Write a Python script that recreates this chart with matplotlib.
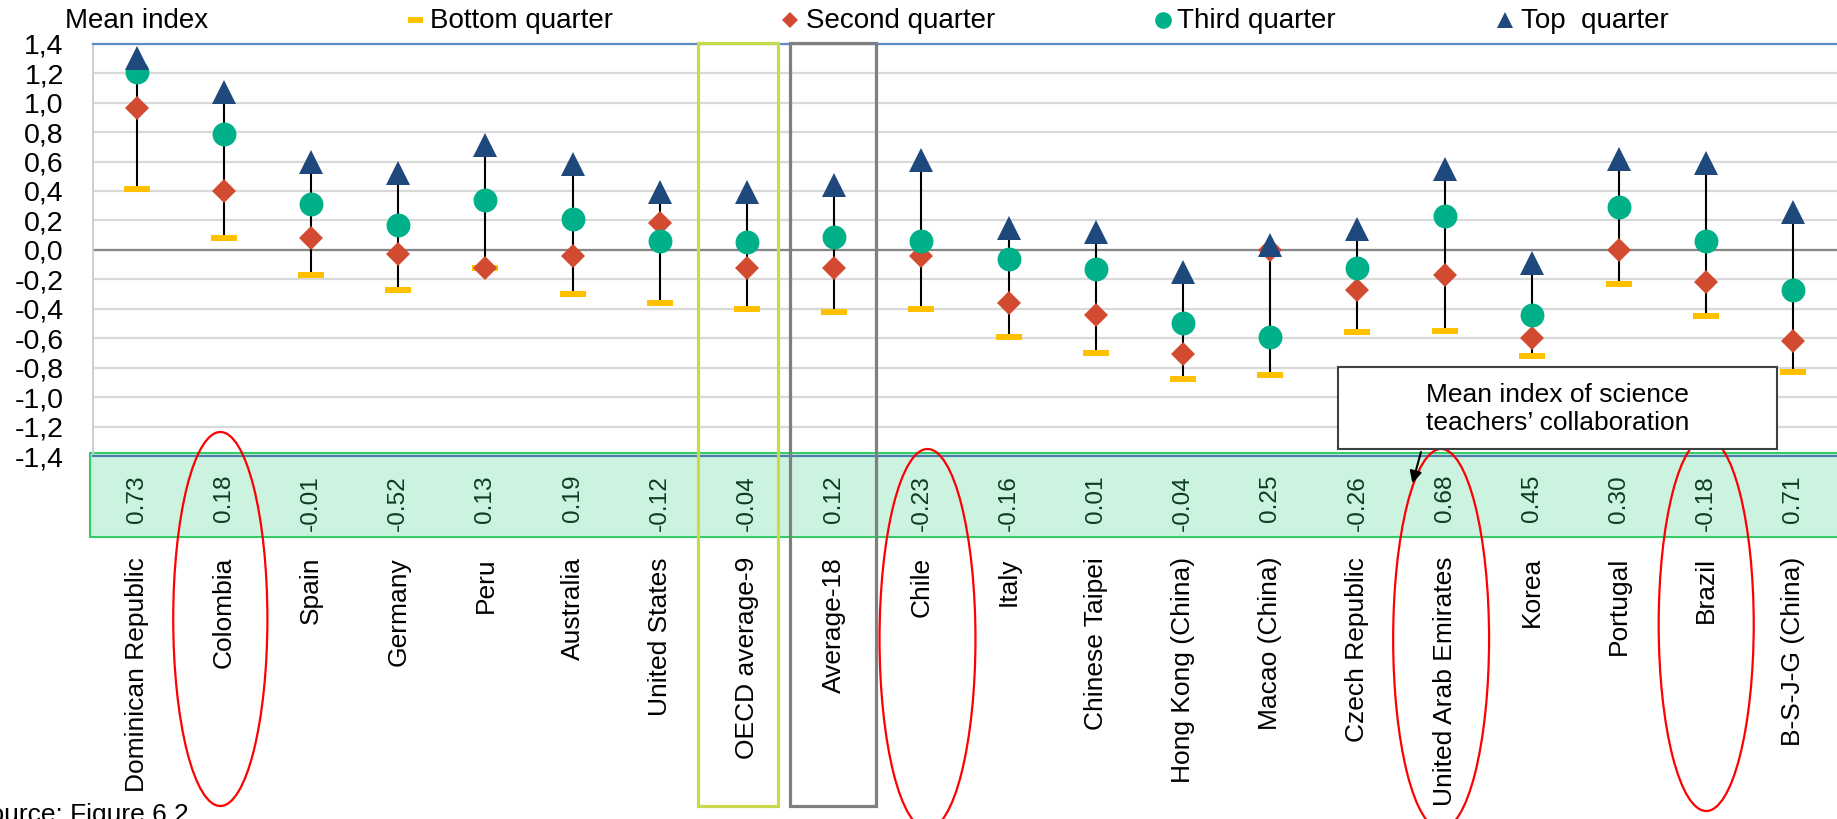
import matplotlib
matplotlib.use("Agg")
import matplotlib.pyplot as plt
import matplotlib.transforms as mtransforms
from matplotlib.patches import Rectangle, Ellipse, FancyArrowPatch
from matplotlib.lines import Line2D
from matplotlib.path import Path

plt.rcParams['font.family'] = ['Liberation Sans', 'DejaVu Sans']

# ---- data -------------------------------------------------------------
categories = ["Dominican Republic", "Colombia", "Spain", "Germany", "Peru",
              "Australia", "United States", "OECD average-9", "Average-18",
              "Chile", "Italy", "Chinese Taipei", "Hong Kong (China)",
              "Macao (China)", "Czech Republic", "United Arab Emirates",
              "Korea", "Portugal", "Brazil", "B-S-J-G (China)"]

bottom_quarter = [0.41, 0.08, -0.17, -0.27, -0.12, -0.30, -0.36, -0.40, -0.42, -0.40,
                  -0.59, -0.70, -0.88, -0.85, -0.56, -0.55, -0.72, -0.23, -0.45, -0.83]
second_quarter = [0.96, 0.40, 0.08, -0.03, -0.12, -0.04, 0.18, -0.12, -0.12, -0.04,
                  -0.36, -0.44, -0.71, 0.00, -0.27, -0.17, -0.60, 0.00, -0.22, -0.62]
third_quarter = [1.21, 0.79, 0.31, 0.17, 0.34, 0.21, 0.06, 0.05, 0.09, 0.06,
                 -0.06, -0.13, -0.50, -0.59, -0.12, 0.23, -0.44, 0.29, 0.06, -0.27]
top_quarter = [1.30, 1.07, 0.60, 0.52, 0.71, 0.58, 0.39, 0.39, 0.44, 0.61,
               0.15, 0.12, -0.15, 0.03, 0.14, 0.55, -0.09, 0.62, 0.59, 0.26]
mean_index = [0.73, 0.18, -0.01, -0.52, 0.13, 0.19, -0.12, -0.04, 0.12, -0.23,
              -0.16, 0.01, -0.04, 0.25, -0.26, 0.68, 0.45, 0.30, -0.18, 0.71]

y_ticks = [1.4, 1.2, 1.0, 0.8, 0.6, 0.4, 0.2, 0.0, -0.2, -0.4, -0.6, -0.8, -1.0, -1.2, -1.4]
y_tick_labels = ["1,4", "1,2", "1,0", "0,8", "0,6", "0,4", "0,2", "0,0",
                 "-0,2", "-0,4", "-0,6", "-0,8", "-1,0", "-1,2", "-1,4"]

# ---- styling ----------------------------------------------------------
C_BOTTOM = "#FFC000"
C_SECOND = "#D24A2F"
C_THIRD = "#00B088"
C_TOP = "#1F497D"
FS = 19
FS_HEAD = 20

W, H = 1837, 819
fig = plt.figure(figsize=(W / 100, H / 100), dpi=100)


def fx(px):
    return px / W


def fy(py):
    return 1 - py / H


def dash_marker(ratio):
    return Path([(-1, -ratio), (1, -ratio), (1, ratio), (-1, ratio), (-1, -ratio)],
                [Path.MOVETO, Path.LINETO, Path.LINETO, Path.LINETO, Path.CLOSEPOLY])


ax = fig.add_axes([fx(93), fy(456), 1 - fx(93), (456 - 43.7) / H])
ax.patch.set_visible(False)
n = len(categories)
x = list(range(n))
ax.set_xlim(-0.5, n - 0.5)
ax.set_ylim(-1.4, 1.4)

ax.set_yticks(y_ticks)
ax.set_yticklabels(y_tick_labels, fontsize=20.5)
ax.tick_params(axis='y', length=0, pad=21)
ax.set_xticks(x)
ax.set_xticklabels(categories, rotation=90, fontsize=FS)
ax.tick_params(axis='x', length=0, pad=(557 - 456) * 0.72)

ax.grid(axis='y', color='#D9D9D9', lw=1.6)
ax.set_axisbelow(True)
ax.axhline(0, color='#868686', lw=1.6, zorder=1.5)

ax.spines['right'].set_visible(False)
ax.spines['top'].set_color('#5B8BC9')
ax.spines['top'].set_linewidth(1.6)
ax.spines['left'].set_color('#C8D0DC')
ax.spines['left'].set_linewidth(1.4)
ax.spines['bottom'].set_color('#4A7FA8')
ax.spines['bottom'].set_linewidth(1.6)

# stems spanning the four quarters
lo = [min(v) for v in zip(bottom_quarter, second_quarter, third_quarter, top_quarter)]
hi = [max(v) for v in zip(bottom_quarter, second_quarter, third_quarter, top_quarter)]
ax.vlines(x, lo, hi, color='black', lw=1.5, zorder=2)

ax.plot(x, bottom_quarter, ls='none', marker=dash_marker(0.21), ms=19.4,
        mfc=C_BOTTOM, mec=C_BOTTOM, mew=0, zorder=3, clip_on=False)
ax.plot(x, second_quarter, ls='none', marker='D', ms=12.2,
        mfc=C_SECOND, mec=C_SECOND, mew=0, zorder=4, clip_on=False)
ax.plot(x, third_quarter, ls='none', marker='o', ms=17.2,
        mfc=C_THIRD, mec=C_THIRD, mew=0, zorder=5, clip_on=False)
ax.plot(x, top_quarter, ls='none', marker='^', ms=17.2,
        mfc=C_TOP, mec=C_TOP, mew=0, zorder=6, clip_on=False)

# band with mean index values under the plot
band = Rectangle((fx(90), fy(537)), 1.0, (537 - 453) / H, transform=fig.transFigure,
                 facecolor='#CCF2E0', edgecolor='#33CC66', lw=1.5, zorder=-1)
fig.add_artist(band)
blend = mtransforms.blended_transform_factory(ax.transData, fig.transFigure)
for xi, v in zip(x, mean_index):
    ax.text(xi, fy(475), f"{v:.2f}", transform=blend, rotation=90, ha='center',
            va='top', fontsize=17.6, color='#0B3D22', clip_on=False)

# highlight frames around the averages
fig.add_artist(Rectangle((6.433, fy(806)), 0.928, (806 - 43) / H, transform=blend,
                         fill=False, edgecolor='#C8DA4C', lw=2.3, zorder=8))
fig.add_artist(Rectangle((7.498, fy(806)), 0.985, (806 - 43) / H, transform=blend,
                         fill=False, edgecolor='#7F7F7F', lw=2.3, zorder=8))

# red ellipses around selected countries
for cx, w, top_px, bot_px in [(0.96, 1.08, 432, 806), (9.07, 1.10, 449, 829),
                              (14.96, 1.10, 449, 829), (18.0, 1.09, 438, 811)]:
    fig.add_artist(Ellipse((cx, fy((top_px + bot_px) / 2)), w, (bot_px - top_px) / H,
                           transform=blend, fill=False, edgecolor='#FF0000',
                           lw=1.6, zorder=9))

# callout
fig.add_artist(Rectangle((fx(1338), fy(449)), fx(1777) - fx(1338), (449 - 367) / H,
                         transform=fig.transFigure, facecolor='white',
                         edgecolor='#404040', lw=1.5, zorder=10))
fig.text(fx(1557.7), fy(409), "Mean index of science\nteachers\u2019 collaboration",
         ha='center', va='center', fontsize=FS, linespacing=1.2, zorder=11)
fig.add_artist(FancyArrowPatch((fx(1421.7), fy(449.3)), (fx(1411.7), fy(486)),
                               transform=fig.transFigure, arrowstyle='-|>',
                               mutation_scale=18, lw=1.5, color='black', zorder=11))

# header and legend
fig.text(fx(65), fy(28.3), "Mean index", fontsize=FS_HEAD, va='baseline')
legend_items = [
    (415, 430, dash_marker(0.35), 10.8, C_BOTTOM, "Bottom quarter"),
    (790, 806, 'D', 8.1, C_SECOND, "Second quarter"),
    (1163, 1177, 'o', 12.0, C_THIRD, "Third quarter"),
    (1505, 1521, '^', 11.5, C_TOP, "Top  quarter"),
]
for mx, tx, mk, ms, col, label in legend_items:
    fig.add_artist(Line2D([fx(mx)], [fy(20)], transform=fig.transFigure, ls='none',
                          marker=mk, ms=ms, mfc=col, mec=col, mew=0))
    fig.text(fx(tx), fy(28.3), label, fontsize=FS_HEAD, va='baseline')

fig.text(fx(189), fy(822), "Source: Figure 6.2", fontsize=FS, ha='right', va='baseline')

fig.savefig("out.png", dpi=100)
